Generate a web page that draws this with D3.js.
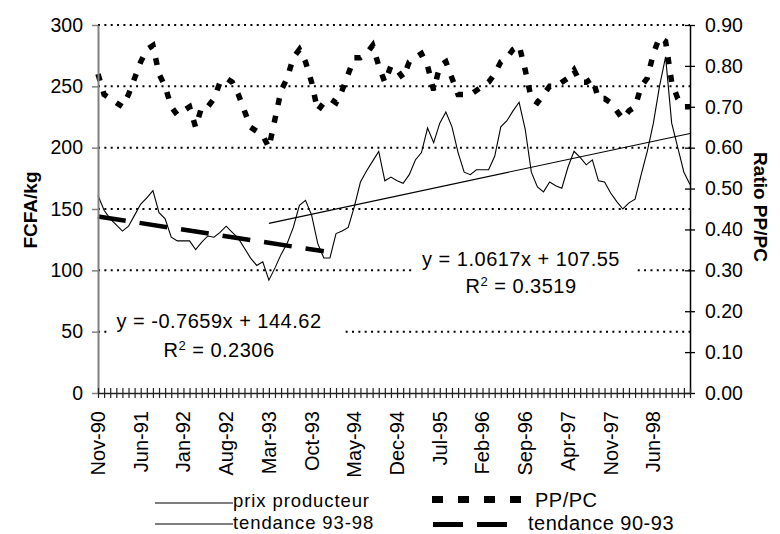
<!DOCTYPE html>
<html>
<head>
<meta charset="utf-8">
<script src="https://cdnjs.cloudflare.com/ajax/libs/d3/7.8.5/d3.min.js"></script>
<style>
  body { margin: 0; background: #fff; }
  svg { display: block; }
  text { font-family: "Liberation Sans", Arial, sans-serif; fill: #000; }
</style>
</head>
<body>
<svg id="chart"></svg>
<script>
// monthly series, Nov-90 .. Dec-98
var prixProducteur = [
  161, 149, 142, 137, 132, 136, 145, 154, 159, 165, 147, 142,
  127, 124, 124, 124, 117, 123, 128, 127, 131, 136, 131, 126,
  118, 110, 104, 107, 92, 102, 113, 122, 135, 153, 157, 145,
  122, 110, 110, 130, 132, 135, 152, 172, 181, 189, 197, 173,
  176, 173, 171, 178, 190, 196, 216, 204, 220, 229, 217, 196,
  180, 178, 182, 182, 182, 193, 217, 222, 230, 237, 215, 180,
  168, 164, 172, 169, 167, 184, 197, 192, 186, 190, 173, 172,
  163, 156, 150, 155, 158, 178, 197, 220, 250, 274, 220, 200,
  180, 170
]
var ppPc = [
  0.78, 0.73, 0.72, 0.71, 0.70, 0.73, 0.77, 0.81, 0.84, 0.85, 0.78, 0.75,
  0.70, 0.68, 0.69, 0.70, 0.65, 0.70, 0.70, 0.72, 0.76, 0.77, 0.76, 0.73,
  0.69, 0.65, 0.64, 0.63, 0.60, 0.67, 0.74, 0.77, 0.82, 0.84, 0.81, 0.76,
  0.69, 0.71, 0.72, 0.71, 0.74, 0.78, 0.82, 0.82, 0.83, 0.85, 0.80, 0.76,
  0.80, 0.79, 0.77, 0.81, 0.82, 0.83, 0.80, 0.74, 0.80, 0.81, 0.77, 0.73,
  0.73, 0.73, 0.74, 0.75, 0.76, 0.78, 0.81, 0.82, 0.84, 0.85, 0.79, 0.72,
  0.71, 0.73, 0.75, 0.75, 0.76, 0.77, 0.79, 0.76, 0.76, 0.77, 0.72, 0.72,
  0.71, 0.69, 0.67, 0.69, 0.70, 0.75, 0.77, 0.83, 0.87, 0.86, 0.76, 0.72,
  0.70, 0.70
]
// trend lines: [month index, value] at both ends
var tendance9398 = [[28, 138.3], [97, 211.6]]
var tendance9093 = [[0, 143.9], [37, 115.5]]

var xTickLabels = ["Nov-90", "Jun-91", "Jan-92", "Aug-92", "Mar-93", "Oct-93", "May-94",
                   "Dec-94", "Jul-95", "Feb-96", "Sep-96", "Apr-97", "Nov-97", "Jun-98"]
var leftTicks = [0, 50, 100, 150, 200, 250, 300]
var rightTicks = [0, 0.1, 0.2, 0.3, 0.4, 0.5, 0.6, 0.7, 0.8, 0.9]

var eq9093 = ["y = -0.7659x + 144.62", "0.2306"]
var eq9398 = ["y = 1.0617x + 107.55", "0.3519"]

var dimensions = {
    width: 780,
    height: 534,
    margin: { left: 98, right: 690, top: 25, bottom: 393 }
}

var svg = d3.select("#chart")
            .attr("width", dimensions.width)
            .attr("height", dimensions.height)

var months = d3.timeMonth.range(new Date(1990, 10, 1), new Date(1999, 0, 1))
var fmt = d3.timeFormat("%b-%y")
var cats = months.map(fmt)

var xScale = d3.scalePoint()
               .domain(cats)
               .range([dimensions.margin.left, dimensions.margin.right])

var yLeft = d3.scaleLinear()
              .domain([0, 300])
              .range([dimensions.margin.bottom, dimensions.margin.top])

var yRight = d3.scaleLinear()
               .domain([0, 0.9])
               .range([dimensions.margin.bottom, dimensions.margin.top])

// dotted gridlines
svg.append("g")
   .selectAll("line")
   .data(leftTicks.filter(d => d > 0))
   .enter()
   .append("line")
   .attr("x1", dimensions.margin.left)
   .attr("x2", dimensions.margin.right)
   .attr("y1", d => yLeft(d))
   .attr("y2", d => yLeft(d))
   .style("stroke", "black")
   .style("stroke-width", 2)
   .style("stroke-dasharray", "2,4.35")

// series
var xi = i => xScale(cats[i])

var priceLine = d3.line().x((d, i) => xi(i)).y(d => yLeft(d))
var ratioLine = d3.line().x((d, i) => xi(i)).y(d => yRight(d))
var trendLine = d3.line().x(d => xi(d[0])).y(d => yLeft(d[1]))

svg.append("path")
   .datum(ppPc)
   .attr("d", ratioLine)
   .style("fill", "none")
   .style("stroke", "black")
   .style("stroke-width", 5.5)
   .style("stroke-dasharray", "7,11")

svg.append("path")
   .datum(prixProducteur)
   .attr("d", priceLine)
   .style("fill", "none")
   .style("stroke", "black")
   .style("stroke-width", 1.1)

svg.append("path")
   .datum(tendance9398)
   .attr("d", trendLine)
   .style("fill", "none")
   .style("stroke", "black")
   .style("stroke-width", 1.1)

svg.append("path")
   .datum(tendance9093)
   .attr("d", trendLine)
   .style("fill", "none")
   .style("stroke", "black")
   .style("stroke-width", 4.5)
   .style("stroke-dasharray", "28,14")

// equation labels with white boxes
function eqLabel(lines, cx, y1, y2, box) {
    var g = svg.append("g")
    g.append("rect")
     .attr("x", box[0]).attr("y", box[1])
     .attr("width", box[2] - box[0]).attr("height", box[3] - box[1])
     .style("fill", "white")
    g.append("text")
     .attr("x", cx).attr("y", y1)
     .attr("text-anchor", "middle")
     .style("font-size", "20px")
     .style("letter-spacing", "0.5px")
     .text(lines[0])
    var r = g.append("text")
     .attr("x", cx).attr("y", y2)
     .attr("text-anchor", "middle")
     .style("font-size", "20px")
     .style("letter-spacing", "0.5px")
    r.append("tspan").text("R")
    r.append("tspan").attr("dy", -7).style("font-size", "13px").text("2")
    r.append("tspan").attr("dy", 7).text(" = " + lines[1])
}
eqLabel(eq9093, 219, 328, 357, [108, 306, 343, 365])
eqLabel(eq9398, 521, 266, 293, [412, 246, 636, 300])

// left axis
var leftAxis = svg.append("g")
   .attr("transform", "translate(" + dimensions.margin.left + ",0)")
   .call(d3.axisLeft(yLeft).tickValues(leftTicks).tickSize(6).tickPadding(9).tickSizeOuter(0))
leftAxis.select(".domain").style("stroke", "#808080").style("stroke-width", 2)
leftAxis.selectAll(".tick line").style("stroke", "#808080").style("stroke-width", 1.5)
leftAxis.selectAll("text").style("font-size", "19.5px").style("font-family", "Liberation Sans, Arial, sans-serif")

// right axis
var rightAxis = svg.append("g")
   .attr("transform", "translate(" + dimensions.margin.right + ",0)")
   .call(d3.axisRight(yRight).tickValues(rightTicks).tickSize(5).tickPadding(10)
           .tickFormat(d3.format(".2f")).tickSizeOuter(0))
rightAxis.select(".domain").style("stroke", "black").style("stroke-width", 1.5)
rightAxis.selectAll(".tick line").attr("x1", -5).style("stroke", "black").style("stroke-width", 1.3)
rightAxis.selectAll("text").style("font-size", "19.5px").style("font-family", "Liberation Sans, Arial, sans-serif")

// bottom axis, a cross tick at every month
var bottomAxis = svg.append("g")
   .attr("transform", "translate(0," + dimensions.margin.bottom + ")")
   .call(d3.axisBottom(xScale).tickSize(5).tickSizeOuter(0).tickFormat(""))
bottomAxis.select(".domain").style("stroke", "#222").style("stroke-width", 1.5)
bottomAxis.selectAll(".tick line").attr("y1", -5).style("stroke", "#222").style("stroke-width", 1.2)

svg.append("g")
   .selectAll("text")
   .data(xTickLabels)
   .enter()
   .append("text")
   .attr("transform", d => "translate(" + xScale(d) + ",411) rotate(-90)")
   .attr("dy", "0.35em")
   .attr("text-anchor", "end")
   .style("font-size", "20px")
   .text(d => d)

// axis titles
svg.append("text")
   .attr("transform", "translate(30,210) rotate(-90)")
   .attr("dy", "0.35em")
   .attr("text-anchor", "middle")
   .style("font-size", "19px")
   .style("font-weight", "bold")
   .text("FCFA/kg")

svg.append("text")
   .attr("transform", "translate(761,207) rotate(90)")
   .attr("dy", "0.35em")
   .attr("text-anchor", "middle")
   .style("font-size", "19px")
   .style("font-weight", "bold")
   .text("Ratio PP/PC")

// legend
var legend = svg.append("g")
legend.append("line").attr("x1", 155).attr("x2", 233).attr("y1", 503).attr("y2", 503)
      .style("stroke", "black").style("stroke-width", 1.1)
legend.append("text").attr("x", 233).attr("y", 507).style("font-size", "18.5px")
      .style("letter-spacing", "0.9px").text("prix producteur")
legend.append("line").attr("x1", 155).attr("x2", 233).attr("y1", 524).attr("y2", 524)
      .style("stroke", "black").style("stroke-width", 1.1)
legend.append("text").attr("x", 233).attr("y", 529).style("font-size", "18.5px")
      .style("letter-spacing", "0.9px").text("tendance 93-98")

legend.append("line").attr("x1", 432).attr("x2", 521).attr("y1", 499.5).attr("y2", 499.5)
      .style("stroke", "black").style("stroke-width", 7).style("stroke-dasharray", "11,15")
legend.append("text").attr("x", 535).attr("y", 507).style("font-size", "20px")
      .style("letter-spacing", "0.5px").text("PP/PC")
legend.append("line").attr("x1", 433).attr("x2", 507).attr("y1", 524.5).attr("y2", 524.5)
      .style("stroke", "black").style("stroke-width", 5).style("stroke-dasharray", "30,14")
legend.append("text").attr("x", 528).attr("y", 530).style("font-size", "20px")
      .style("letter-spacing", "0.5px").text("tendance 90-93")
</script>
</body>
</html>
